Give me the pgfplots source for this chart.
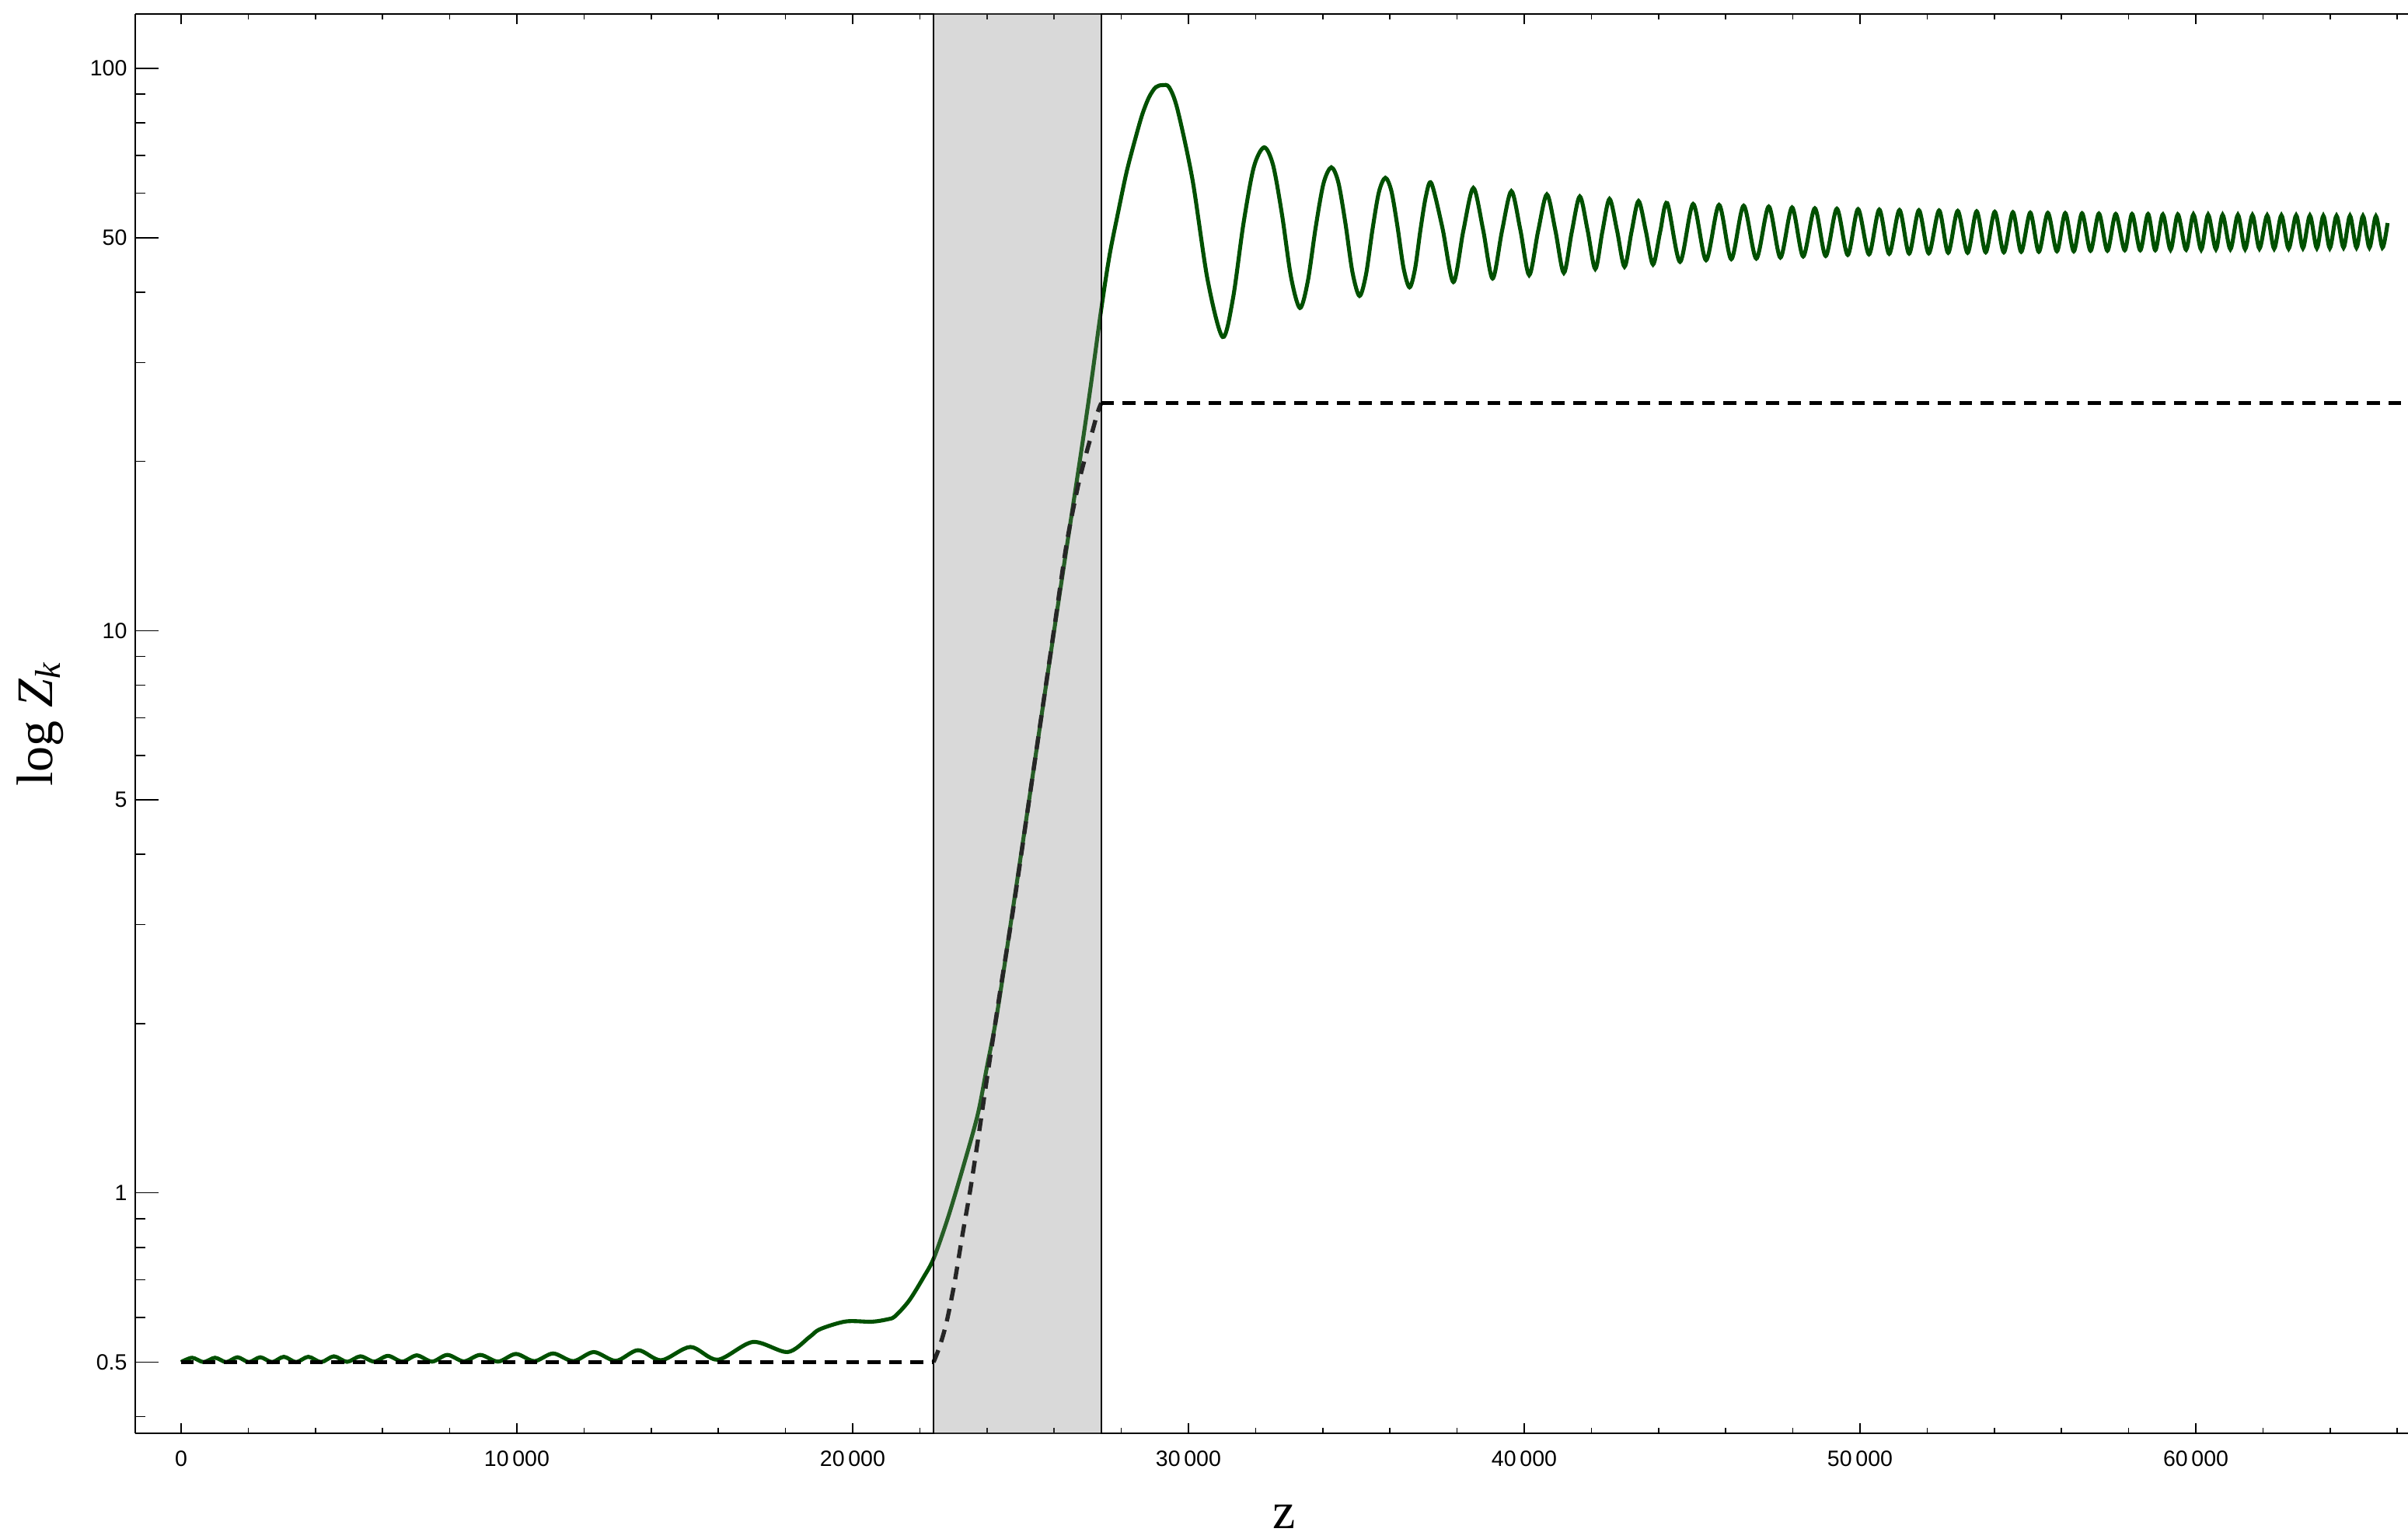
\documentclass[border=0pt]{standalone}
\usepackage{fontspec}
\setmainfont{Liberation Serif}
\setsansfont{Liberation Sans}
\usepackage{pgfplots}
\pgfplotsset{compat=1.18}
\definecolor{zgreen}{RGB}{0,80,0}
\definecolor{bandgray}{RGB}{128,128,128}
\begin{document}
\begin{tikzpicture}
\begin{axis}[
  scale only axis, width=974.7pt, height=608.7pt,
  ymode=log, log basis y=10,
  xmin=-1365, xmax=66320, ymin=0.3735, ymax=125,
  axis x line*=box, axis y line*=left,
  axis line style={line width=0.8pt, black},
  tick align=inside,
  scaled x ticks=false,
  xtick={0,10000,20000,30000,40000,50000,60000},
  xticklabels={0,10\,000,20\,000,30\,000,40\,000,50\,000,60\,000},
  minor xtick={2000,4000,6000,8000,12000,14000,16000,18000,22000,24000,26000,28000,32000,34000,36000,38000,42000,44000,46000,48000,52000,54000,56000,58000,62000,64000,66000},
  ytick={0.4,0.6,0.7,0.8,0.9,2,3,4,6,7,8,9,20,30,40,60,70,80,90},
  yticklabels={},
  extra y ticks={0.5,1,5,10,50,100},
  extra y tick labels={0.5,1,5,10,50,100},
  extra tick style={major tick length=10pt, tick style={black, line width=0.5pt}},
  major tick length=4.5pt, minor tick length=2.5pt,
  tick style={black, line width=0.5pt},
  tick label style={font=\sffamily\fontsize{9.5}{11}\selectfont},
  xticklabel style={yshift=-4pt},
  xlabel={\fontsize{22}{26}\selectfont z},
  xlabel style={at={(axis description cs:0.5054,-0.0672)}, anchor=base},
  ylabel={\fontsize{22}{26}\selectfont log \textit{Z}\textsubscript{\textit{k}}},
  ylabel style={at={(axis description cs:-0.0280,0.5)}, anchor=south},
]
% green curve
\addplot[zgreen, line width=1.7pt, smooth] coordinates {
(0,0.500)(330,0.509)(670,0.500)(1010,0.509)(1345,0.500)(1680,0.510)(2020,0.500)(2360,0.510)(2710,0.500)(3060,0.511)(3425,0.500)(3790,0.511)(4170,0.500)(4550,0.512)(4945,0.5005)(5340,0.512)(5750,0.501)(6160,0.513)(6590,0.501)(7020,0.514)(7475,0.501)(7930,0.515)(8420,0.5015)(8910,0.515)(9440,0.501)(9970,0.517)(10520,0.502)(11080,0.518)(11680,0.502)(12290,0.521)(12950,0.5026)(13610,0.525)(14300,0.5038)(15170,0.532)(15980,0.5049)(17030,0.543)(18060,0.521)(18714,0.554)(19022,0.572)(19794,0.5906)(20565,0.5899)(21027,0.5956)(21258,0.603)(21680,0.643)(22107,0.707)(22415,0.765)(22838,0.903)(23301,1.117)(23727,1.38)(23995,1.67)(24304,2.09)(24800,3.28)(25200,4.75)(25600,6.9)(26000,10.0)(26400,14.4)(26800,20.7)(27100,27.5)(27408,37.5)
(27650,46.5)(27893,55.0)(28160,65.5)(28431,75.5)(28630,83.0)(28827,88.9)(29025,92.6)(29225,93.4)(29425,92.6)
(29673,84.6)(30122,63.35)(30570,42.1)(31018,33.3)(31327,39.0)(31636,52.85)(31945,66.7)(32254,72.4)
(32521,67.3)(32787,54.95)(33054,42.6)(33320,37.5)(33554,41.8)(33788,52.1)(34021,62.4)(34255,66.7)
(34465,62.7)(34675,53.05)(34885,43.4)(35095,39.4)(35288,43.0)(35480,51.65)(35673,60.3)(35865,63.9)
(36045,60.5)(36225,52.35)(36405,44.2)(36585,40.8)(36748,44.0)(36910,51.65)(37073,59.3)(37235,62.5)
(37563,52.1)(37890,41.7)(38188,51.5)(38485,61.3)(38772,51.8)(39058,42.3)(39338,51.4)(39617,60.5)
(39883,51.7)(40148,42.9)(40412,51.3)(40675,59.7)(40928,51.5)(41180,43.3)(41418,51.25)(41655,59.2)
(41886,51.6)(42116,44.0)(42328,51.3)(42540,58.6)(42764,51.5)(42987,44.4)(43196,51.25)(43404,58.1)
(43620,51.45)(43836,44.8)(44048,51.2)(44260,57.6)
(44640,45.3)(45031,57.4)(45416,45.6)(45802,57.2)(46166,45.8)(46535,57.0)(46912,45.9)(47282,56.8)
(47629,46.1)(47976,56.6)(48307,46.3)(48654,56.4)(48978,46.4)(49311,56.3)(49635,46.6)(49942,56.2)
(50267,46.7)(50574,56.1)(50868,46.8)(51175,56.0)(51462,46.85)(51754,55.95)(52047,46.9)(52355,55.9)
(52625,47.0)(52910,55.8)(53204,47.0)(53474,55.7)(53743,47.1)(54013,55.6)(54283,47.1)(54553,55.5)
(54800,47.2)(55070,55.4)(55325,47.2)(55594,55.35)(55864,47.3)(56112,55.3)(56366,47.3)(56612,55.25)
(56866,47.4)(57114,55.2)(57368,47.4)(57615,55.1)(57884,47.5)(58101,55.1)(58346,47.5)(58578,55.1)
(58794,47.5)(59018,55.0)(59248,47.6)(59465,55.0)(59711,47.6)(59928,55.0)(60160,47.6)(60367,54.95)
(60599,47.7)(60798,54.9)(61030,47.7)(61254,54.9)(61469,47.7)(61686,54.85)(61895,47.8)(62126,54.8)
(62334,47.8)(62549,54.8)(62765,47.8)(62989,54.8)(63190,47.9)(63398,54.75)(63606,47.9)(63798,54.7)
(63991,47.9)(64191,54.7)(64400,48.0)(64592,54.7)(64786,48.0)(64978,54.65)(65171,48.0)(65364,54.6)
(65557,48.0)(65711,53.1)
};
% dashed reference
\addplot[black, line width=1.8pt, dash pattern=on 5.5pt off 3.7pt] coordinates {(0,0.5)(22410,0.5)};
\addplot[black, line width=1.8pt, dash pattern=on 5.5pt off 3.7pt, smooth] coordinates {
(22410,0.5)(22600,0.535)(22800,0.59)(23030,0.69)(23260,0.835)(23500,1.01)(23730,1.24)(23960,1.54)(24190,1.90)(24400,2.30)(24800,3.25)(25200,4.74)(25600,6.91)(26000,10.07)(26370,14.25)(26704,18.0)(26903,20.1)(27102,22.2)(27301,24.5)(27405,25.4)};
\addplot[black, line width=1.8pt, dash pattern=on 5.5pt off 3.7pt] coordinates {(27405,25.4)(67000,25.4)};
% shaded band (translucent overlay)
\addplot[draw=none, fill=bandgray, fill opacity=0.3] coordinates {(22410,0.3)(27405,0.3)(27405,200)(22410,200)} -- cycle;
\addplot[black, line width=0.6pt] coordinates {(22410,0.3)(22410,200)};
\addplot[black, line width=0.6pt] coordinates {(27405,0.3)(27405,200)};
\end{axis}
\pgfresetboundingbox
\path[use as bounding box] ([shift={(-58pt,-45.3pt)}]current axis.south west) rectangle ([shift={(0pt,6pt)}]current axis.north east);
\end{tikzpicture}
\end{document}
